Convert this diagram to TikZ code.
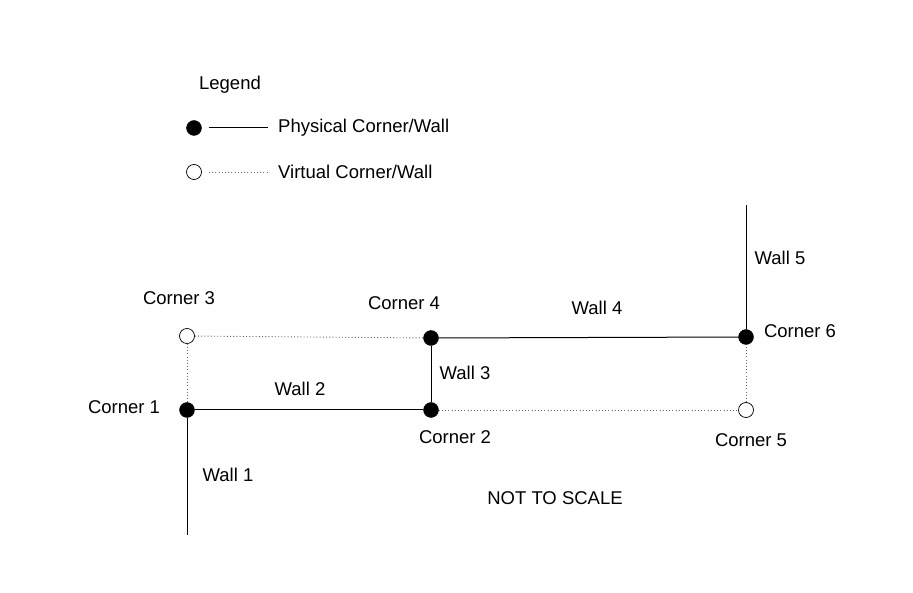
\documentclass[tikz,border=0pt]{standalone}
\usepackage{fontspec}
\setmainfont{Liberation Sans}
\usepackage{tikz}
\usetikzlibrary{positioning}

\begin{document}
\begin{tikzpicture}[
  x=1pt, y=-1pt,
  physical/.style={
    circle,
    draw=black,
    fill=black,
    inner sep=0pt,
    minimum size=15pt
  },
  virtual/.style={
    circle,
    draw=black,
    fill=white,
    line width=0.7pt,
    inner sep=0pt,
    minimum size=15pt
  },
  wall/.style={line width=1pt, black},
  vwall/.style={line width=0.9pt, black!60, dash pattern=on 1pt off 2.2pt},
  lbl/.style={inner sep=0pt, anchor=center},
  font=\fontsize{18.5}{22}\selectfont
]
\useasboundingbox (0,0) rectangle (913,593);

% legend
\node[lbl] (legend) at (230,85) {Legend};
\node[physical] (lphys) at (194,128) {};
\node[virtual] (lvirt) at (194,172) {};
\coordinate (lphysA) at (209,128);
\coordinate (lphysB) at (268,128);
\coordinate (lvirtA) at (209,172);
\coordinate (lvirtB) at (268,172);
\draw[wall] (lphysA) -- (lphysB);
\draw[vwall] (lvirtA) -- (lvirtB);
\node[lbl, anchor=west] (lphystext) at (278,128) {Physical Corner/Wall};
\node[lbl, anchor=west] (lvirttext) at (278,172) {Virtual Corner/Wall};

% corners
\node[physical] (c1) at (187,410) {};
\node[physical] (c2) at (431,410) {};
\node[virtual] (c3) at (187,336) {};
\node[physical] (c4) at (431,338) {};
\node[virtual] (c5) at (746,410) {};
\node[physical] (c6) at (746,337) {};
\coordinate (w1end) at (187,535);
\coordinate (w5end) at (746,205);

% walls
\draw[vwall] (c3) -- (c4);
\draw[vwall] (c3) -- (c1);
\draw[vwall] (c2) -- (c5);
\draw[vwall] (c5) -- (c6);
\draw[wall] (c1) -- (w1end);
\draw[wall] (c1) -- (c2);
\draw[wall] (c2) -- (c4);
\draw[wall] (c4) -- (c6);
\draw[wall] (c6) -- (w5end);

% labels
\node[lbl] (c1label) at (124,407) {Corner 1};
\node[lbl] (c2label) at (455,437) {Corner 2};
\node[lbl] (c3label) at (179,298) {Corner 3};
\node[lbl] (c4label) at (404,303) {Corner 4};
\node[lbl] (c5label) at (751,440) {Corner 5};
\node[lbl] (c6label) at (800,331) {Corner 6};
\node[lbl] (w1label) at (228,475) {Wall 1};
\node[lbl] (w2label) at (300,389) {Wall 2};
\node[lbl] (w3label) at (465,373) {Wall 3};
\node[lbl] (w4label) at (597,308) {Wall 4};
\node[lbl] (w5label) at (780,258) {Wall 5};
\node[lbl] (scale) at (555,498) {NOT TO SCALE};
\end{tikzpicture}
\end{document}
